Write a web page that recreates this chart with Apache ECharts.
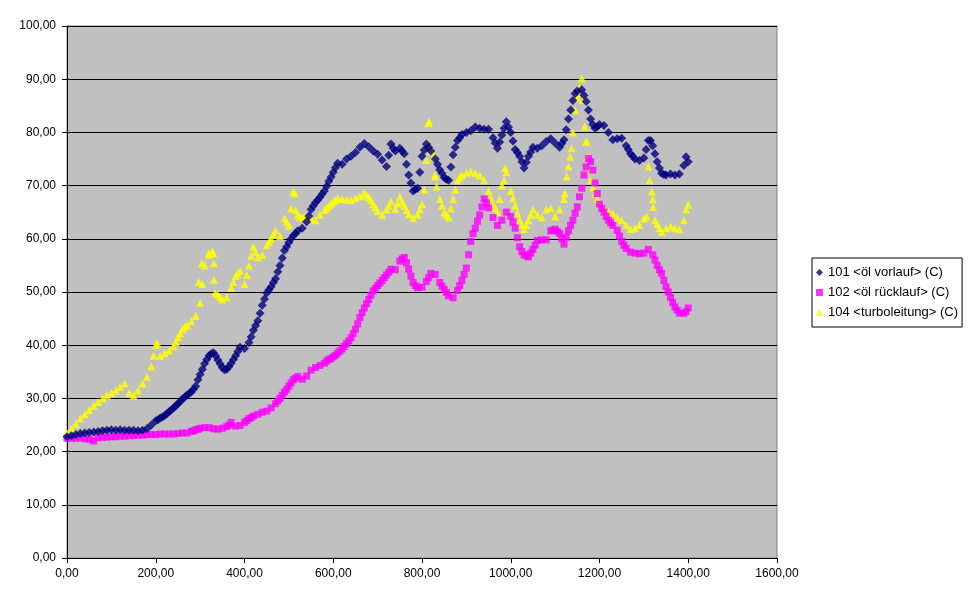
<!DOCTYPE html>
<html>
<head>
<meta charset="utf-8">
<script src="https://cdn.jsdelivr.net/npm/echarts@6/dist/echarts.min.js"></script>
<style>html,body{margin:0;padding:0;background:#fff}#c{width:970px;height:604px}</style>
</head>
<body>
<div id="c"></div>
<script>
const seriesNames = ['101 <öl vorlauf> (C)', '102 <öl rücklauf> (C)', '104 <turboleitung> (C)'];
const xTicks = [0, 200, 400, 600, 800, 1000, 1200, 1400, 1600];
const yTicks = [0, 10, 20, 30, 40, 50, 60, 70, 80, 90, 100];

const xs = [0,10,20,30,40,50,60,70,80,90,100,110,120,130,140,150,160,170,180,190,200,210,220,230,240,250,260,270,280,290,300,310,320,330,340,350,360,370,380,390,400,410,420,430,440,450,460,470,480,490,500,510,520,530,540,550,560,570,580,590,600,610,620,630,640,650,660,670,680,690,700,710,720,730,740,750,760,770,780,790,800,810,820,830,840,850,860,870,880,890,900,910,920,930,940,950,960,970,980,990,1000,1010,1020,1030,1040,1050,1060,1070,1080,1090,1100,1110,1120,1130,1140,1150,1160,1170,1180,1190,1200,1210,1220,1230,1240,1250,1260,1270,1280,1290,1300,1310,1320,1330,1340,1350,1360,1370,1380,1390,1400];

const vorlauf = [22.8,23.0,23.2,23.4,23.5,23.6,23.7,23.8,23.9,24.0,
24.1,24.0,24.1,24.0,24.0,24.0,23.9,24.0,24.3,25.0,
25.8,26.3,26.8,27.5,28.2,29.0,29.9,30.6,31.2,32.3,
34.5,36.5,38.0,38.6,37.2,35.8,35.5,36.6,38.0,39.6,
39.4,40.5,42.8,44.6,47.5,49.8,51.0,52.5,55.0,57.8,
59.3,60.6,61.5,62.0,63.2,65.5,66.8,67.8,69.0,70.8,
72.5,74.2,74.0,75.0,75.5,76.2,77.2,77.9,77.3,76.5,
75.9,74.8,73.6,77.8,76.5,77.0,76.0,72.0,69.0,69.5,
75.5,77.8,76.5,75.0,73.0,71.5,71.0,75.8,78.5,79.6,
80.0,80.3,81.0,80.8,80.6,80.6,79.0,77.0,79.5,82.0,
80.0,76.8,75.5,73.3,75.5,77.2,77.0,77.5,78.3,78.8,
78.0,77.2,78.6,82.5,86.0,87.8,88.0,85.8,82.5,80.8,
81.5,81.3,80.0,78.6,78.8,78.9,77.5,76.0,75.0,74.7,
75.2,78.5,77.5,74.5,72.3,72.0,72.2,72.0,72.2,73.8,
74.5];
const vorlaufExtraX = [295,305,315,435,445,485,495,545,725,765,775,795,805,865,875,985,995,1005,1125,1135,1145,1165,1175,1185,1305,1315,1325,1335,1395,
205,215,225,235,245,255,265,275,285,325,335,345,355,365,375,385,415,425,455,465,475,505,515,555,565,575,585,595,605,735,755,785,815,835,845,855,885,965,975,1015,1025,1035,1045,1115,1195,1265,1275,1345];
const vorlaufExtraY = [33.5,35.5,37.3,46.0,48.7,56.4,58.5,64.3,75.7,74.0,70.5,72.5,76.7,73.5,77.2,80.8,81.0,78.4,80.5,84.2,87.3,87.0,84.2,81.5,76.8,78.5,76.0,73.3,75.4,
26.0,26.5,27.1,27.8,28.6,29.4,30.2,30.9,31.7,38.4,38.0,36.5,35.4,36.0,37.3,38.8,41.6,43.7,50.4,51.8,53.8,60.0,61.0,66.2,67.3,68.4,69.9,71.6,73.4,77.0,76.5,69.3,77.2,74.0,72.3,71.2,79.0,78.0,78.2,76.2,74.5,74.4,76.3,77.9,81.1,76.8,75.5,72.1];

const ruecklauf = [22.5,22.5,22.5,22.6,22.4,22.3,22.0,22.6,22.7,22.7,
22.8,22.8,22.9,22.9,23.0,23.0,23.1,23.1,23.2,23.2,
23.2,23.3,23.3,23.3,23.3,23.4,23.5,23.5,23.8,24.1,
24.4,24.5,24.5,24.3,24.2,24.4,24.7,25.5,24.8,24.9,
25.5,26.2,26.7,27.0,27.4,27.6,28.2,29.0,30.0,31.2,
32.3,33.5,34.1,33.6,34.2,35.3,35.8,36.2,36.6,37.3,
37.8,38.5,39.3,40.3,41.4,43.0,45.2,47.0,48.6,50.2,
51.2,52.2,53.2,54.3,54.2,55.8,56.5,54.3,51.8,50.8,
50.9,52.0,53.5,53.3,51.8,50.5,49.3,48.9,50.3,52.2,
54.5,59.5,62.0,64.5,67.5,65.8,64.0,62.5,63.5,65.0,
64.2,62.0,58.5,57.0,56.6,58.0,59.7,59.8,59.8,61.5,
61.8,61.0,59.0,61.5,63.5,66.0,69.5,73.5,74.5,70.5,
66.5,65.0,63.5,62.5,61.6,59.5,58.2,57.5,57.3,57.2,
57.3,58.0,57.0,55.0,53.5,51.0,49.0,47.2,46.0,46.0,
47.0];
const ruecklaufExtraX = [905,915,925,935,945,1015,1025,1145,1155,1165,1175,1185,1195,1345,1355,1365,655,665,675,
285,295,365,405,415,475,485,495,505,515,585,595,605,615,625,635,645,685,695,705,715,725,755,765,775,785,815,845,855,885,895,1005,1035,1045,1055,1095,1105,1115,1125,1135,1205,1215,1225,1245,1255,1325,1335,1375,1395];
const ruecklaufExtraY = [57.0,61.0,63.3,66.0,66.8,60.2,57.6,64.8,67.9,72.0,75.1,72.9,68.5,52.2,50.0,48.0,44.0,46.1,47.8,
23.9,24.2,25.0,25.8,26.4,29.5,30.6,31.7,32.9,33.8,37.0,37.5,38.1,38.9,39.8,40.8,42.2,49.4,50.7,51.7,52.7,53.7,56.2,55.5,53.0,51.2,52.7,51.1,49.9,51.2,53.3,63.1,56.8,57.3,58.8,61.6,61.4,60.0,60.3,62.5,65.7,64.2,63.0,60.5,58.8,56.0,54.2,46.6,46.3];

const turbo = [23.5,24.3,25.2,26.2,27.0,27.8,28.6,29.3,30.0,30.6,
31.0,31.5,32.2,32.8,31.0,30.5,31.5,32.8,34.0,36.0,
40.0,38.0,38.5,39.0,39.8,41.5,43.0,43.8,44.5,45.5,
48.0,55.0,57.0,57.3,49.5,48.6,49.0,50.8,53.0,54.0,
51.5,55.0,58.5,56.5,57.0,58.8,60.0,61.5,60.5,63.8,
62.5,68.9,64.5,64.0,64.2,63.8,63.5,64.5,65.4,66.2,
67.0,67.6,67.5,67.4,67.3,67.6,68.0,68.6,67.8,66.5,
65.2,64.5,65.5,67.0,65.6,67.9,66.2,64.6,63.9,64.5,
66.5,74.8,76.5,71.7,67.5,65.0,64.0,67.5,71.0,72.0,
72.4,72.6,72.3,71.9,71.0,69.0,66.5,65.0,70.0,72.5,
69.0,66.2,63.5,61.8,63.5,65.5,64.5,64.0,65.5,65.8,
64.2,65.5,67.5,73.6,80.0,86.5,90.2,78.3,71.0,68.5,
66.5,65.5,65.2,64.8,64.0,63.5,62.6,61.8,62.0,62.6,
63.8,73.6,67.5,62.8,61.3,62.0,62.3,62.0,61.8,63.5,
66.4];
const turboExtraX = [805,812,814,816,818,822,826,829,833,1122,1126,1134,1137,1145,1152,1155,1163,1167,1171,1173,1175,1306,1313,1318,1321,1325,514,515,203,297,304,319,327,331,331,334,987,985,1395,
195,245,255,265,305,345,375,385,405,415,425,455,465,495,505,525,535,585,595,605,675,685,695,725,745,755,765,795,845,855,865,875,885,955,965,975,1005,1015,1025,1035,1045,1185,1195,1335];
const turboExtraY = [69.2,78.0,81.7,82.0,77.0,76.7,75.4,72.0,69.8,68.5,71.7,75.4,77.0,84.2,87.3,88.5,86.1,81.1,78.3,75.4,72.9,64.2,71.0,68.9,66.0,63.5,68.5,65.4,40.4,51.9,55.4,57.3,57.6,55.4,52.3,49.8,73.3,71.0,65.5,
38.0,40.6,42.2,43.4,51.5,49.0,51.9,53.5,53.2,56.8,57.5,59.4,60.8,63.2,65.7,64.2,64.1,65.8,66.6,67.3,68.2,67.2,65.9,66.2,66.7,67.0,65.4,65.5,66.2,64.5,65.7,69.2,71.5,67.7,65.8,67.5,67.6,64.8,62.6,62.6,64.5,69.7,67.5,62.0];

function pairs(x, y, ex, ey) {
  const out = x.map((v, i) => [v, y[i]]);
  ex.forEach((v, i) => out.push([v, ey[i]]));
  return out;
}
const fmt = v => v.toFixed(2).replace('.', ',');
const FONT = 'Liberation Sans, Arial, sans-serif';

const chart = echarts.init(document.getElementById('c'), null, {renderer: 'canvas'});
chart.setOption({
  animation: false,
  backgroundColor: '#ffffff',
  textStyle: {fontFamily: FONT},
  grid: {left: 67, right: 193, top: 26, bottom: 46, show: true, backgroundColor: '#C0C0C0', borderColor: '#808080', borderWidth: 1},
  legend: {
    orient: 'vertical', left: 812, top: 258,
    borderColor: '#000', borderWidth: 1, padding: [8, 4, 8, 4],
    itemGap: 7, itemWidth: 7, itemHeight: 7,
    textStyle: {fontFamily: FONT, fontSize: 13, color: '#000'},
    data: [
      {name: seriesNames[0], icon: 'diamond'},
      {name: seriesNames[1], icon: 'rect'},
      {name: seriesNames[2], icon: 'triangle'}
    ]
  },
  xAxis: {
    type: 'value', min: xTicks[0], max: xTicks[xTicks.length - 1], interval: 200,
    axisLine: {lineStyle: {color: '#000', width: 1}},
    axisTick: {show: true, inside: false, length: 5, lineStyle: {color: '#000'}},
    axisLabel: {color: '#000', fontSize: 12, fontFamily: FONT, margin: 10, formatter: fmt},
    splitLine: {show: false}
  },
  yAxis: {
    type: 'value', min: yTicks[0], max: yTicks[yTicks.length - 1], interval: 10,
    axisLine: {show: true, lineStyle: {color: '#000', width: 1}},
    axisTick: {show: true, inside: false, length: 5, lineStyle: {color: '#000'}},
    axisLabel: {color: '#000', fontSize: 12, fontFamily: FONT, margin: 11, formatter: fmt},
    splitLine: {show: true, lineStyle: {color: '#000', width: 1}}
  },
  series: [
    {name: seriesNames[2], type: 'scatter', symbol: 'triangle', symbolSize: 8,
     itemStyle: {color: '#FFFF00'}, data: pairs(xs, turbo, turboExtraX, turboExtraY), z: 2},
    {name: seriesNames[1], type: 'scatter', symbol: 'rect', symbolSize: 7,
     itemStyle: {color: '#FF00FF'}, data: pairs(xs, ruecklauf, ruecklaufExtraX, ruecklaufExtraY), z: 3},
    {name: seriesNames[0], type: 'scatter', symbol: 'diamond', symbolSize: 9,
     itemStyle: {color: '#000080'}, data: pairs(xs, vorlauf, vorlaufExtraX, vorlaufExtraY), z: 4}
  ]
});
</script>
</body>
</html>
